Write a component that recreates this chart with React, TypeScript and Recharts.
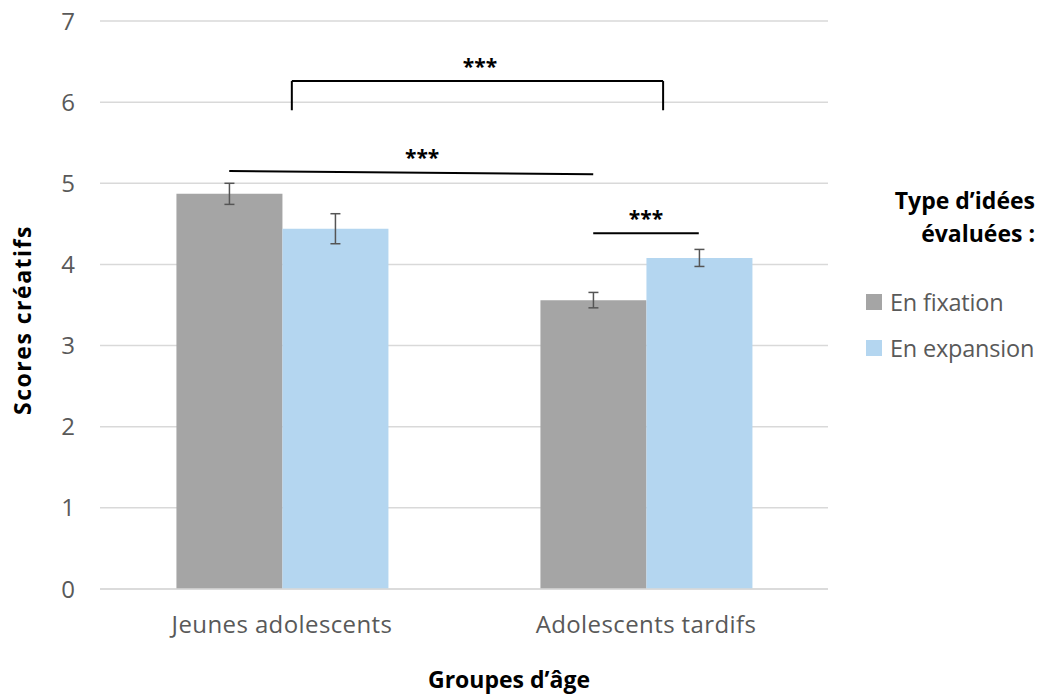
import React from 'react';
import {
  BarChart,
  Bar,
  XAxis,
  YAxis,
  CartesianGrid,
  ErrorBar,
  ReferenceLine,
  ReferenceDot,
} from 'recharts';

const groups = ['Jeunes adolescents', 'Adolescents tardifs'];
const fixation = [4.87, 3.56];
const expansion = [4.44, 4.08];
const fixationErr = [0.13, 0.095];
const expansionErr = [0.185, 0.105];
const yTicks = [0, 1, 2, 3, 4, 5, 6, 7];

const data = groups.map((g, i) => ({
  group: g,
  fix: fixation[i],
  exp: expansion[i],
  fixErr: fixationErr[i],
  expErr: expansionErr[i],
}));

const FONT = '"Open Sans", sans-serif';
const GRAY = '#a5a5a5';
const BLUE = '#b4d6f0';
const TICK = '#595959';

// hidden numeric x axis: 0 = left edge of plot, 1 = right edge
const starLabel = { value: '***', position: 'center' as const, fill: '#000', fontSize: 21, fontWeight: 700, fontFamily: FONT };

const App = () => {
  return (
    <div style={{ position: 'absolute', left: 0, top: 0, width: 1041, height: 696, background: '#fff', fontFamily: FONT }}>
      <BarChart
        width={1041}
        height={696}
        data={data}
        margin={{ top: 21, right: 213, left: 40, bottom: 47 }}
        barCategoryGap="21%"
        barGap={0}
      >
        <CartesianGrid vertical={false} stroke="#d9d9d9" strokeWidth={1.5} />
        <XAxis
          dataKey="group"
          height={60}
          tickLine={false}
          tickSize={0}
          tickMargin={27}
          axisLine={{ stroke: '#d9d9d9', strokeWidth: 1.5 }}
          tick={{ fill: TICK, fontSize: 24, fontFamily: FONT, letterSpacing: 0.4 }}
        />
        <XAxis xAxisId="n" type="number" domain={[0, 1]} allowDataOverflow hide />
        <YAxis
          width={60}
          domain={[0, 7]}
          ticks={yTicks}
          interval={0}
          axisLine={false}
          tickLine={false}
          tickSize={0}
          tickMargin={25}
          tick={{ fill: TICK, fontSize: 24, fontFamily: FONT }}
        />
        <Bar dataKey="fix" fill={GRAY} isAnimationActive={false}>
          <ErrorBar dataKey="fixErr" width={5} stroke="#555" strokeWidth={1.5} direction="y" isAnimationActive={false} />
        </Bar>
        <Bar dataKey="exp" fill={BLUE} isAnimationActive={false}>
          <ErrorBar dataKey="expErr" width={5} stroke="#555" strokeWidth={1.5} direction="y" isAnimationActive={false} />
        </Bar>

        {/* bracket between groups */}
        <ReferenceLine xAxisId="n" segment={[{ x: 0.2635, y: 5.9 }, { x: 0.2635, y: 6.26 }]} stroke="#000" strokeWidth={2} />
        <ReferenceLine xAxisId="n" segment={[{ x: 0.2635, y: 6.26 }, { x: 0.7735, y: 6.26 }]} stroke="#000" strokeWidth={2} />
        <ReferenceLine xAxisId="n" segment={[{ x: 0.7735, y: 6.26 }, { x: 0.7735, y: 5.9 }]} stroke="#000" strokeWidth={2} />
        <ReferenceDot xAxisId="n" x={0.522} y={6.44} r={0} fill="none" stroke="none" label={starLabel} />

        {/* fixation: young vs late */}
        <ReferenceLine xAxisId="n" segment={[{ x: 0.1775, y: 5.15 }, { x: 0.6775, y: 5.11 }]} stroke="#000" strokeWidth={2} />
        <ReferenceDot xAxisId="n" x={0.4425} y={5.32} r={0} fill="none" stroke="none" label={starLabel} />

        {/* late: fixation vs expansion */}
        <ReferenceLine xAxisId="n" segment={[{ x: 0.6775, y: 4.385 }, { x: 0.8225, y: 4.385 }]} stroke="#000" strokeWidth={2} />
        <ReferenceDot xAxisId="n" x={0.75} y={4.56} r={0} fill="none" stroke="none" label={starLabel} />
      </BarChart>

      {/* axis titles */}
      <div style={{ position: 'absolute', left: 22, top: 320, transform: 'translate(-50%, -50%) rotate(-90deg)', whiteSpace: 'nowrap', fontWeight: 700, fontSize: 23, letterSpacing: 1.5, color: '#000' }}>
        Scores créatifs
      </div>
      <div style={{ position: 'absolute', left: 509, top: 679, transform: 'translate(-50%, -50%)', whiteSpace: 'nowrap', fontWeight: 700, fontSize: 23, color: '#000' }}>
        Groupes d’âge
      </div>

      {/* legend */}
      <div style={{ position: 'absolute', right: 6, top: 184, textAlign: 'right', fontWeight: 700, fontSize: 23, lineHeight: '33px', color: '#000' }}>
        Type d’idées<br />évaluées :
      </div>
      <div style={{ position: 'absolute', left: 866, top: 279, fontSize: 23.5, letterSpacing: -0.2, color: TICK, lineHeight: '46px' }}>
        <div style={{ display: 'flex', alignItems: 'center' }}>
          <span style={{ display: 'inline-block', width: 16, height: 16, background: GRAY, marginRight: 8 }} />
          En fixation
        </div>
        <div style={{ display: 'flex', alignItems: 'center' }}>
          <span style={{ display: 'inline-block', width: 16, height: 16, background: BLUE, marginRight: 8 }} />
          En expansion
        </div>
      </div>
    </div>
  );
};

export default App;
